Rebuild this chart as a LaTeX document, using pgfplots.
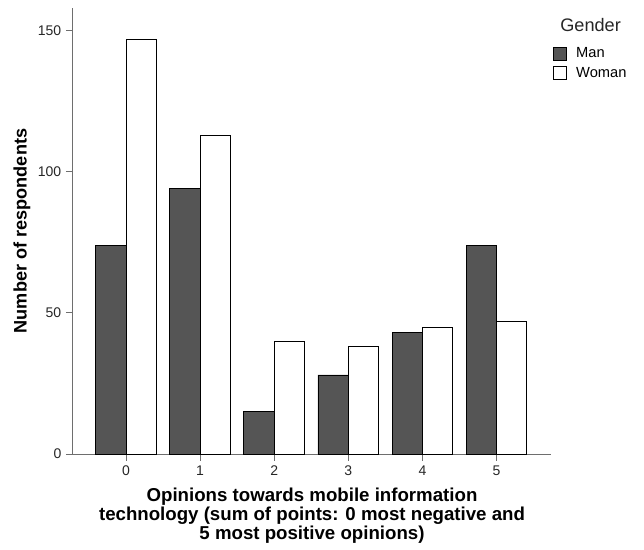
\documentclass[border=0pt]{standalone}
\usepackage{fontspec}
\setmainfont{Liberation Sans}
\usepackage{pgfplots}
\pgfplotsset{compat=1.18}
\definecolor{mangray}{HTML}{555555}
\definecolor{axgray}{HTML}{6E6E6E}

\begin{document}
\begin{tikzpicture}
\begin{axis}[
    scale only axis,
    width=359pt, height=334.5pt,
    xmin=-0.72, xmax=5.74,
    ymin=0, ymax=158,
    clip=false,
    axis lines*=left,
    axis line style={axgray, line width=0.6pt},
    xtick={0,1,2,3,4,5},
    ytick={0,50,100,150},
    tick align=outside,
    major tick length=5pt,
    tick style={axgray, line width=0.6pt},
    ticklabel style={font=\fontsize{10.5}{12}\selectfont, text=black!85},
    /pgf/number format/assume math mode=true,
    xlabel={Opinions towards mobile information\\technology (sum of points: 0 most negative and\\5 most positive opinions)},
    xlabel style={font=\bfseries\fontsize{14}{12.4}\selectfont, align=center,
        at={(axis description cs:0.5,-0.066)}, anchor=north},
    ylabel={Number of respondents},
    ylabel style={font=\bfseries\fontsize{13.6}{16}\selectfont,
        at={(axis description cs:-0.106,0.5)}, anchor=center},
    legend style={draw=none, fill=none, at={(rel axis cs:1.003,0.918)}, anchor=north west,
        font=\fontsize{11}{12}\selectfont, inner sep=0pt, row sep=1.5pt,
        /tikz/every odd column/.style={column sep=5pt}},
    legend cell align=left,
    legend image code/.code={\draw[#1] (0pt,-4.9pt) rectangle (9.75pt,4.9pt);},
]
\addplot[ybar, bar width=0.41, bar shift=-0.205, fill=mangray, draw=black, line width=0.6pt]
    coordinates {(0,74) (1,94) (2,15) (3,28) (4,43) (5,74)};
\addplot[ybar, bar width=0.41, bar shift=0.205, fill=white, draw=black, line width=0.6pt]
    coordinates {(0,147) (1,113) (2,40) (3,38) (4,45) (5,47)};
\legend{Man, Woman}
\coordinate (O) at (rel axis cs:0,0);
\node[font=\fontsize{13.6}{16}\selectfont, text=black!85] at (rel axis cs:1.082,0.962) {Gender};
\end{axis}
\pgfresetboundingbox
\path (O) ++(-54.5pt,-72pt) rectangle ++(483pt,412.5pt);
\end{tikzpicture}
\end{document}
